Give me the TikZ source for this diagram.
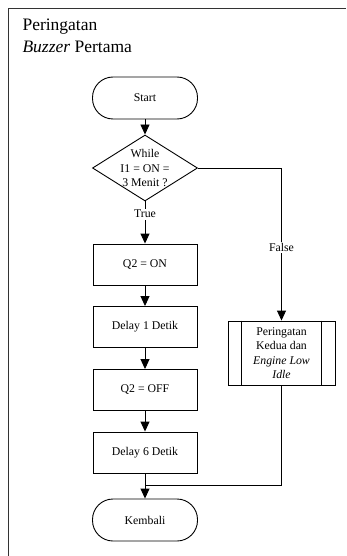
\documentclass[tikz,border=0pt]{standalone}
\usepackage{fontspec}
\setmainfont{Liberation Serif}
\usetikzlibrary{positioning, calc, shapes.geometric, arrows.meta}

\begin{document}
\begin{tikzpicture}[x=1pt, y=-1pt,
  every node/.style={font=\fontsize{11.8}{14.5}\selectfont},
  term/.style={rectangle, draw, line width=0.9pt, rounded corners=20.5pt, minimum width=105pt, minimum height=42pt},
  proc/.style={rectangle, draw, line width=0.9pt, minimum width=104pt, minimum height=41pt},
  cond/.style={diamond, draw, line width=0.9pt, minimum width=105pt, minimum height=66pt, inner sep=0pt},
  predef/.style={rectangle, draw, line width=0.9pt, minimum width=107pt, minimum height=64pt, align=center},
  arr/.style={-{Triangle[length=10pt, width=9pt]}, line width=0.9pt},
  garis/.style={line width=0.9pt},
  lbl/.style={fill=white, inner sep=1.5pt}]
    \useasboundingbox (0,0) rectangle (346,556);
    % frame
    \draw[black!80, line width=1.3pt] (8.5,556) -- (8.5,8.5) -- (346,8.5);
    \node[anchor=base west, font=\fontsize{17.5}{21}\selectfont] (judul1) at (19,31) {Peringatan};
    \node[anchor=base west, font=\fontsize{17.5}{21}\selectfont] (judul2) at (19,52.7) {\textit{Buzzer} Pertama};

    % main column
    \node[term] (start) at (145,98) {Start};
    \node[cond] (cek) at (145,168) {};
    \node[align=center] (cektxt) at (145,168) {While\\I1 = ON =\\3 Menit ?};
    \node[proc] (q2on) at (145,264.5) {Q2 = ON};
    \node[proc] (delay1) at (145,327) {Delay 1 Detik};
    \node[proc] (q2off) at (145,390) {Q2 = OFF};
    \node[proc] (delay6) at (145,452.5) {Delay 6 Detik};
    \node[term] (kembali) at (145,520) {Kembali};

    % false branch
    \node[predef] (kedua) at (281.5,353) {Peringatan\\Kedua dan\\\textit{Engine Low}\\\textit{Idle}};
    \draw[garis] ($(kedua.north west)+(14,0)$) -- ($(kedua.south west)+(14,0)$);
    \draw[garis] ($(kedua.north east)+(-14,0)$) -- ($(kedua.south east)+(-14,0)$);
    \coordinate (gabung) at (145,485);

    \draw[arr] (start) -- (cek);
    \draw[arr] (cek) -- node[lbl, pos=0.3] {True} (q2on);
    \draw[arr] (q2on) -- (delay1);
    \draw[arr] (delay1) -- (q2off);
    \draw[arr] (q2off) -- (delay6);
    \draw[arr] (delay6) -- (kembali);
    \draw[arr] (cek.east) -| node[lbl, pos=0.76] {False} (kedua);
    \draw[garis] (kedua.south) |- (gabung);
\end{tikzpicture}
\end{document}
